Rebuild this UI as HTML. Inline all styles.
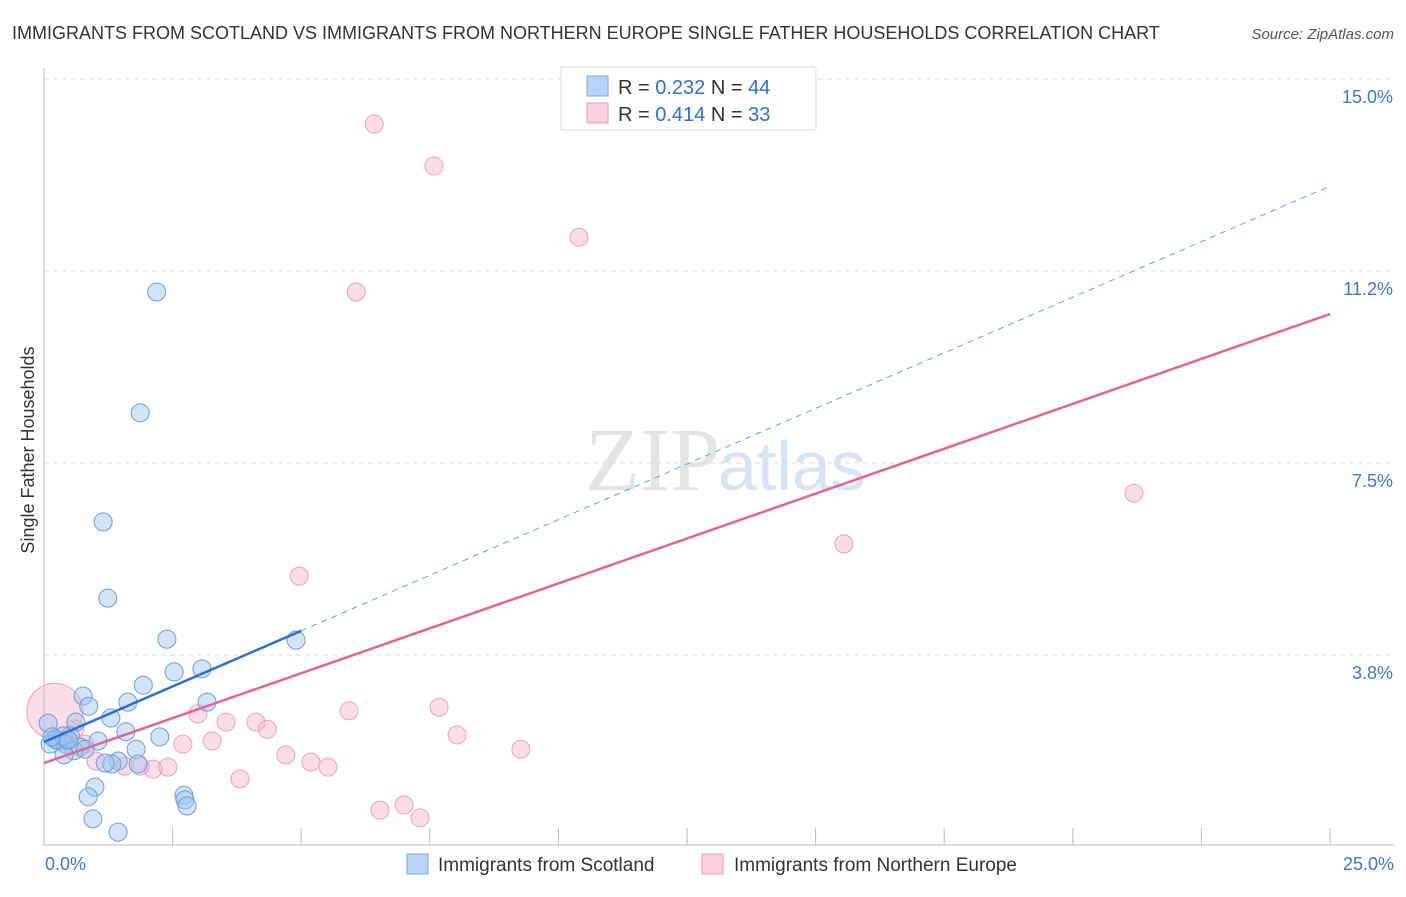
<!DOCTYPE html>
<html><head><meta charset="utf-8"><style>
body{margin:0;background:#fff;font-family:"Liberation Sans",sans-serif;}
</style></head><body>
<svg id="c" width="1406" height="892" xmlns="http://www.w3.org/2000/svg">
<text x="12" y="39" font-size="18" fill="#333">IMMIGRANTS FROM SCOTLAND VS IMMIGRANTS FROM NORTHERN EUROPE SINGLE FATHER HOUSEHOLDS CORRELATION CHART</text>
<text x="1394" y="39" font-size="15" fill="#555" font-style="italic" text-anchor="end">Source: ZipAtlas.com</text>
<text x="40" y="456" font-size="18" fill="#333" text-anchor="middle" transform="rotate(-90 34 456)">Single Father Households</text>
<text x="720" y="490" font-size="90" fill="#e4e4e4" text-anchor="end" font-family="Liberation Serif,serif">ZIP</text>
<text x="718" y="490" font-size="70" fill="#d6e4f5">atlas</text>
<g id="grid"></g><g id="axes"></g><g id="marks"></g>
<g>
<rect x="561" y="67" width="255" height="63" fill="#fff" stroke="#ddd"/>
<rect x="587" y="76" width="21" height="20" fill="#b8d3f5" stroke="#7aa8e6"/>
<rect x="587" y="103" width="21" height="20" fill="#fbd0dc" stroke="#ef9ab2"/>
<text x="618" y="94" font-size="20" fill="#333">R = <tspan fill="#2f6fd1">0.232</tspan>   N = <tspan fill="#2f6fd1">44</tspan></text>
<text x="618" y="121" font-size="20" fill="#333">R = <tspan fill="#2f6fd1">0.414</tspan>   N = <tspan fill="#2f6fd1"> 33</tspan></text>
</g>
<g>
<rect x="407" y="854" width="21" height="20" fill="#b8d3f5" stroke="#7aa8e6"/>
<text x="438" y="871" font-size="19" fill="#333">Immigrants from Scotland</text>
<rect x="702" y="854" width="21" height="20" fill="#fbd0dc" stroke="#ef9ab2"/>
<text x="734" y="871" font-size="19" fill="#333">Immigrants from Northern Europe</text>
</g>
</svg>
<script>
const yTicks=[3.75,7.5,11.25,15];
const yTickLabels=["3.8%","7.5%","11.2%","15.0%"];
const xTicks=[0,2.5,5,7.5,10,12.5,15,17.5,20,22.5,25];
const scotX=[2.19,1.87,1.15,1.24,2.39,4.90,2.53,3.07,1.93,0.76,1.63,3.17,0.87,1.30,0.62,0.08,1.59,2.25,0.51,1.05,0.21,0.31,0.12,0.41,0.70,0.58,0.80,1.79,0.39,1.44,1.83,1.32,0.99,0.86,2.72,2.74,2.78,0.95,1.44,0.25,0.37,0.16,0.47,1.19];
const scotY=[10.84,8.48,6.35,4.86,4.06,4.04,3.42,3.48,3.16,2.95,2.83,2.83,2.75,2.52,2.44,2.42,2.25,2.15,2.17,2.07,2.11,2.07,2.01,2.01,1.95,1.88,1.91,1.91,1.80,1.68,1.62,1.62,1.17,0.98,1.01,0.92,0.80,0.55,0.29,2.09,2.17,2.15,2.09,1.64];
const neX=[6.42,7.58,10.40,6.07,21.19,15.55,4.96,7.68,5.93,2.99,4.12,3.54,8.03,4.34,2.70,3.27,9.27,4.70,5.19,5.52,3.81,6.53,7.0,7.31,1.01,1.57,2.12,2.41,1.87,0.60,0.80,0.47,0.21];
const neY=[14.12,13.30,11.91,10.84,6.91,5.92,5.29,2.73,2.66,2.60,2.44,2.44,2.19,2.30,2.01,2.07,1.91,1.80,1.66,1.56,1.33,0.72,0.82,0.57,1.68,1.58,1.52,1.56,1.58,2.31,2.01,2.11,2.65];
const neR=[9,9,9,9,9,9,9,9,9,9,9,9,9,9,9,9,9,9,9,9,9,9,9,9,9,9,9,9,9,9,9,9,28];
const scotTrend=[2.05,12.91];
const neTrend=[1.64,10.41];
const X=v=>44+v*51.44, Y=v=>847-v*51.2;
const NS="http://www.w3.org/2000/svg";
function mk(t,a,p){const e=document.createElementNS(NS,t);for(const k in a)e.setAttribute(k,a[k]);document.getElementById(p).appendChild(e);return e;}
yTicks.forEach((t,i)=>{
 const l=mk('line',{x1:44,x2:1394,y1:Y(t),y2:Y(t),stroke:'#ddd','stroke-dasharray':'5,4'},'grid');
 
 
 const tx=mk('text',{x:1393,y:Y(t)+24,'font-size':18,fill:'#3a78d4','text-anchor':'end'},'grid');
 tx.textContent=yTickLabels[i];
 
 
});
let a=mk('line',{x1:44,x2:44,y1:68,y2:845,stroke:'#bbb'},'axes');


a=mk('line',{x1:44,x2:1394,y1:845,y2:845,stroke:'#bbb'},'axes');


xTicks.forEach(t=>{const l=mk('line',{x1:X(t),x2:X(t),y1:828,y2:845,stroke:'#bbb'},'axes');
 
 });
let t0=mk('text',{x:45,y:870,'font-size':18,fill:'#3a78d4'},'axes');t0.textContent='0.0%';


t0=mk('text',{x:1394,y:870,'font-size':18,fill:'#3a78d4','text-anchor':'end'},'axes');t0.textContent='25.0%';


neX.forEach((x,i)=>{const c=mk('circle',{cx:X(x),cy:Y(neY[i]),r:neR[i],fill:'rgba(246,170,195,0.4)',stroke:'#eea0b8','stroke-width':1},'marks');
 
 });
scotX.forEach((x,i)=>{const c=mk('circle',{cx:X(x),cy:Y(scotY[i]),r:9,fill:'rgba(160,196,240,0.45)',stroke:'#6b9de0','stroke-width':1},'marks');
 
 });
const sy=x=>scotTrend[0]+(scotTrend[1]-scotTrend[0])*x/25;
let l=mk('line',{x1:X(0),y1:Y(sy(0)),x2:X(5),y2:Y(sy(5)),stroke:'#2a6fd6','stroke-width':2.5},'marks');


l=mk('line',{x1:X(5),y1:Y(sy(5)),x2:X(25),y2:Y(sy(25)),stroke:'#6b9de0','stroke-width':1,'stroke-dasharray':'6,5'},'marks');


l=mk('line',{x1:X(0),y1:Y(neTrend[0]),x2:X(25),y2:Y(neTrend[1]),stroke:'#e4648f','stroke-width':2.5},'marks');


</script>
</body></html>
